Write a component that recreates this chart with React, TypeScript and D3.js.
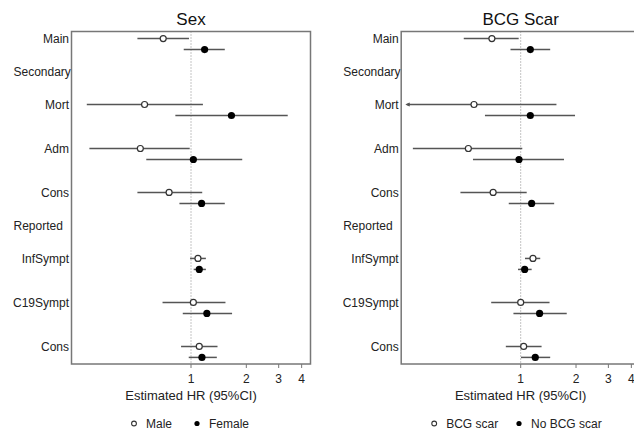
import { useEffect } from 'react';
import * as d3 from 'd3';

// rows (y positions are in "slots" of one point each)
const ROW_LABELS = ['Main', 'Secondary', 'Mort', 'Adm', 'Cons', 'Reported', 'InfSympt', 'C19Sympt', 'Cons'];
const ROW_SLOTS = [0, 3, 6, 10, 14, 17, 20, 24, 28];
const ROW_HEADER = [false, true, false, false, false, true, false, false, false];

const X_TICKS = [1, 2, 3, 4];
const X_LIMITS = [0.25, 4];

// Sex panel: rows without headers (Main, Mort, Adm, Cons, InfSympt, C19Sympt, Cons)
const SEX_TITLE = 'Sex';
const SEX_GROUPS = ['Male', 'Female'];
const MALE_HR = [0.706, 0.559, 0.53, 0.76, 1.091, 1.03, 1.109];
const MALE_LO = [0.511, 0.271, 0.28, 0.511, 0.988, 0.70, 0.883];
const MALE_HI = [0.975, 1.161, 0.984, 1.151, 1.205, 1.54, 1.394];
const FEMALE_HR = [1.186, 1.66, 1.03, 1.142, 1.109, 1.22, 1.147];
const FEMALE_LO = [0.913, 0.822, 0.571, 0.865, 1.034, 0.902, 0.972];
const FEMALE_HI = [1.527, 3.36, 1.90, 1.527, 1.205, 1.673, 1.382];

// BCG scar panel
const BCG_TITLE = 'BCG Scar';
const BCG_GROUPS = ['BCG scar', 'No BCG scar'];
const SCAR_HR = [0.697, 0.557, 0.519, 0.708, 1.166, 1.0, 1.038];
const SCAR_LO = [0.49, 0.12, 0.259, 0.47, 1.055, 0.691, 0.83];
const SCAR_HI = [0.975, 1.565, 1.02, 1.078, 1.277, 1.435, 1.299];
const NOSCAR_HR = [1.128, 1.128, 0.979, 1.147, 1.051, 1.267, 1.2];
const NOSCAR_LO = [0.88, 0.639, 0.55, 0.861, 0.967, 0.913, 1.004];
const NOSCAR_HI = [1.447, 1.975, 1.72, 1.521, 1.147, 1.78, 1.447];

// lowest CI bound that is drawn; below it the line ends in an arrow
const CI_FLOOR = 0.24;

const FONT = '"Liberation Sans", Arial, sans-serif';
const LINE_COL = '#555';

interface Series {
  hr: number[];
  lo: number[];
  hi: number[];
}

interface PanelProps {
  dx: number;
  title: string;
  groups: string[];
  series: [Series, Series];
  legendX: [number, number]; // symbol x of each legend item, relative to HR = 1
}

const plotLeft = 71.5;
const plotWidth = 239;
const plotTop = 31.5;
const plotBottom = 364;

// R style 4% extension of the log range on both sides
const logPad = (Math.log(X_LIMITS[1]) - Math.log(X_LIMITS[0])) * 0.04;
const x = d3.scaleLog()
  .domain([X_LIMITS[0] / Math.exp(logPad), X_LIMITS[1] * Math.exp(logPad)])
  .range([plotLeft, plotLeft + plotWidth]);

const y = d3.scaleLinear()
  .domain([-0.64, 29.6])
  .range([plotTop, plotBottom]);

function Panel({ dx, title, groups, series, legendX }: PanelProps) {
  const dataRows = ROW_SLOTS.filter((_, i) => !ROW_HEADER[i]);
  const xMid = x(1);

  return (
    <g transform={`translate(${dx},0)`}>
      <text x={xMid} y={25} textAnchor="middle" fontSize={17} fill="#111">{title}</text>

      {/* reference line at HR = 1 */}
      <line x1={xMid} x2={xMid} y1={plotTop} y2={plotBottom} stroke="#888" strokeWidth={1} strokeDasharray="1,2" />

      {/* row labels */}
      {ROW_LABELS.map((lab, i) => (
        ROW_HEADER[i]
          ? <text key={i} x={plotLeft - 58} y={y(ROW_SLOTS[i]) + 4.3} fontSize={12} fill="#222">{lab}</text>
          : <text key={i} x={plotLeft - 2.5} y={y(ROW_SLOTS[i]) + 4.3} fontSize={12} fill="#222" textAnchor="end">{lab}</text>
      ))}

      {/* CIs and points */}
      {series.map((s, gi) => (
        <g key={gi}>
          {s.hr.map((v, i) => {
            const cy = y(dataRows[i] + gi);
            const clipped = s.lo[i] < CI_FLOOR;
            const x0 = x(Math.max(s.lo[i], CI_FLOOR));
            return (
              <g key={i}>
                <line x1={x0} x2={x(s.hi[i])} y1={cy} y2={cy} stroke={LINE_COL} strokeWidth={1.5} />
                {clipped && (
                  <path d={`M${x0 + 3},${cy - 1.5} L${x0},${cy} L${x0 + 3},${cy + 1.5}`} fill="none" stroke={LINE_COL} strokeWidth={1.3} />
                )}
                {gi === 0
                  ? <circle cx={x(v)} cy={cy} r={3} fill="#fff" stroke="#333" strokeWidth={1.2} />
                  : <circle cx={x(v)} cy={cy} r={3.6} fill="#000" />}
              </g>
            );
          })}
        </g>
      ))}

      {/* box */}
      <rect x={plotLeft} y={plotTop} width={plotWidth} height={plotBottom - plotTop} fill="none" stroke="#777" strokeWidth={1.5} />

      {/* x axis */}
      {X_TICKS.map(t => (
        <g key={t}>
          <line x1={x(t)} x2={x(t)} y1={plotBottom} y2={plotBottom + 4} stroke="#777" strokeWidth={1} />
          <text x={x(t)} y={383} textAnchor="middle" fontSize={12} fill="#222">{t}</text>
        </g>
      ))}
      <text x={xMid} y={400} textAnchor="middle" fontSize={13} fill="#222">Estimated HR (95%CI)</text>

      {/* legend */}
      <g>
        <circle cx={xMid + legendX[0]} cy={423.5} r={2.4} fill="#fff" stroke="#333" strokeWidth={1.1} />
        <text x={xMid + legendX[0] + 12} y={428} fontSize={12} fill="#222">{groups[0]}</text>
      </g>
      <g>
        <circle cx={xMid + legendX[1]} cy={423.5} r={2.6} fill="#000" />
        <text x={xMid + legendX[1] + 12} y={428} fontSize={12} fill="#222">{groups[1]}</text>
      </g>
    </g>
  );
}

export default function App() {
  useEffect(() => {
    document.body.style.margin = '0';
  }, []);

  return (
    <svg width={634} height={431} viewBox="0 0 634 431" style={{ display: 'block', fontFamily: FONT, background: '#fff' }}>
      <Panel
        dx={0}
        title={SEX_TITLE}
        groups={SEX_GROUPS}
        legendX={[-57, 6]}
        series={[
          { hr: MALE_HR, lo: MALE_LO, hi: MALE_HI },
          { hr: FEMALE_HR, lo: FEMALE_LO, hi: FEMALE_HI },
        ]}
      />
      <Panel
        dx={329.7}
        title={BCG_TITLE}
        groups={BCG_GROUPS}
        legendX={[-86.5, -1.7]}
        series={[
          { hr: SCAR_HR, lo: SCAR_LO, hi: SCAR_HI },
          { hr: NOSCAR_HR, lo: NOSCAR_LO, hi: NOSCAR_HI },
        ]}
      />
    </svg>
  );
}
